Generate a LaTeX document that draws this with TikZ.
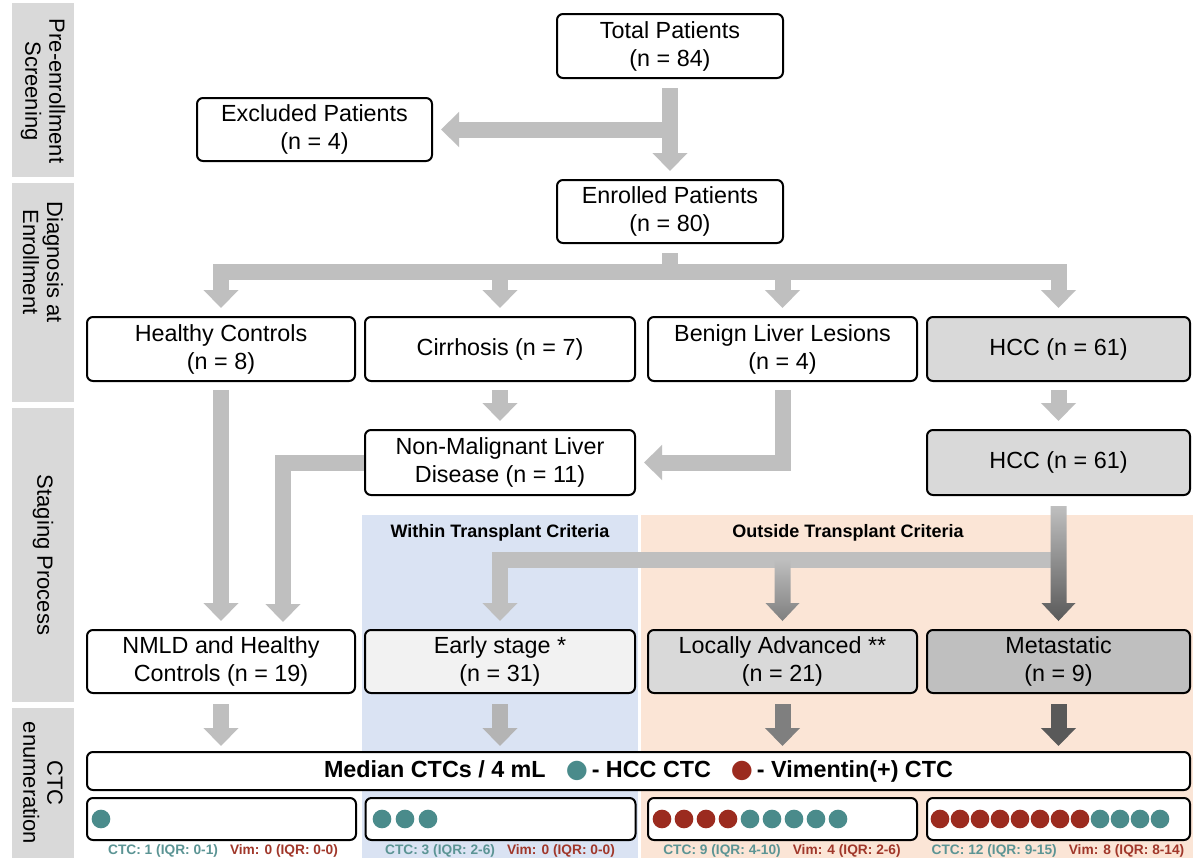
\documentclass[tikz,border=0pt]{standalone}
\usepackage{fontspec}
\setmainfont{Liberation Sans}
\newfontfamily\dejavu{DejaVu Sans}
\usetikzlibrary{arrows.meta,calc}
\definecolor{ag}{HTML}{BFBFBF}
\definecolor{side}{HTML}{D9D9D9}
\definecolor{pblue}{HTML}{DAE3F3}
\definecolor{ppeach}{HTML}{FBE5D6}
\definecolor{fgray}{HTML}{D9D9D9}
\definecolor{fearly}{HTML}{F2F2F2}
\definecolor{fmet}{HTML}{BFBFBF}
\definecolor{tealc}{HTML}{4A8B8B}
\definecolor{redc}{HTML}{9B2B1F}
\definecolor{tealt}{HTML}{5B9494}
\definecolor{redt}{HTML}{A0372A}
\definecolor{dkone}{HTML}{7F7F7F}
\definecolor{dktwo}{HTML}{595959}
\definecolor{earlyarr}{HTML}{B4B4B4}
\begin{document}
\begin{tikzpicture}[x=0.75pt,y=-0.75pt,
  box/.style={draw=black, line width=1.5pt, rounded corners=4.5pt, fill=white, align=center,
    font=\fontsize{17.5}{21}\selectfont, inner sep=0pt},
  sidetxt/.style={rotate=-90, align=center, font=\fontsize{16.5}{18}\selectfont, inner sep=0pt},
  ttl/.style={font=\bfseries\fontsize{13.5}{16}\selectfont, inner sep=0pt},
  lab/.style={font=\bfseries\fontsize{10.3}{12}\selectfont, inner sep=0pt},
  gshaft/.style={draw=ag, line width=12pt},
  garrow/.style={draw=ag, line width=12pt, line join=miter, -{Triangle[width=25.5pt,length=13.5pt]}},
  hdot/.style={radius=7pt}
]
\useasboundingbox (0,0) rectangle (1193,858);
\fill[white] (0,0) rectangle (1193,858);
% sidebar
\fill[side] (12,3) rectangle (74,177);
\fill[side] (12,183) rectangle (74,402);
\fill[side] (12,408) rectangle (74,702);
\fill[side] (12,708) rectangle (74,858);
\node[sidetxt] (s1) at (43,91) {Pre-enrollment\\Screening};
\node[sidetxt] (s2) at (43,262) {Diagnosis at\\Enrollment};
\node[sidetxt] (s3) at (43,555) {Staging Process};
\node[sidetxt] (s4) at (43,783) {CTC\\enumeration};
% panels
\fill[pblue] (362,515) rectangle (638,858);
\fill[ppeach] (641,515) rectangle (1193,858);
\node[ttl] (t1) at (500,533) {Within Transplant Criteria};
\node[ttl] (t2) at (848,533) {Outside Transplant Criteria};
% boxes
\node[box, minimum width=169.5pt, minimum height=48pt] (tot) at (670,46) {Total Patients\\(n = 84)};
\node[box, minimum width=176.25pt, minimum height=47.25pt] (excl) at (314.5,129.5) {Excluded Patients\\(n = 4)};
\node[box, minimum width=169.5pt, minimum height=47.25pt] (enr) at (670,211.5) {Enrolled Patients\\(n = 80)};
\node[box, minimum width=201pt, minimum height=48pt] (hc) at (221,349) {Healthy Controls\\(n = 8)};
\node[box, minimum width=202.5pt, minimum height=48pt] (cir) at (500,349) {Cirrhosis (n = 7)};
\node[box, minimum width=201.75pt, minimum height=48pt] (ben) at (782.5,349) {Benign Liver Lesions\\(n = 4)};
\node[box, minimum width=197.25pt, minimum height=48pt, fill=fgray] (hcca) at (1058.5,349) {HCC (n = 61)};
\node[box, minimum width=202.5pt, minimum height=48.75pt] (nml) at (500,462.5) {Non-Malignant Liver\\Disease (n = 11)};
\node[box, minimum width=197.25pt, minimum height=48.75pt, fill=fgray] (hccb) at (1058.5,462.5) {HCC (n = 61)};
\node[box, minimum width=201pt, minimum height=47.25pt] (nmld) at (221,661.5) {NMLD and Healthy\\Controls (n = 19)};
\node[box, minimum width=202.5pt, minimum height=47.25pt, fill=fearly] (early) at (500,661.5) {Early stage *\\(n = 31)};
\node[box, minimum width=201.75pt, minimum height=47.25pt, fill=fgray] (loc) at (782.5,661.5) {Locally Advanced **\\(n = 21)};
\node[box, minimum width=197.25pt, minimum height=47.25pt, fill=fmet] (met) at (1058.5,661.5) {Metastatic\\(n = 9)};
\node[box, minimum width=827.25pt, minimum height=28.5pt, font=\bfseries\fontsize{17.5}{20}\selectfont] (hdr) at (638.5,771)
  {Median CTCs / 4 mL\hspace{15pt}{\dejavu\fontsize{19}{20}\selectfont\textcolor{tealc}{●}}\,- HCC CTC\hspace{15pt}{\dejavu\fontsize{19}{20}\selectfont\textcolor{redc}{●}}\,- Vimentin(+) CTC};
\node[box, minimum width=201.75pt, minimum height=31.5pt] (d1) at (221.5,819) {};
\node[box, minimum width=202.5pt, minimum height=31.5pt] (d2) at (500.5,819) {};
\node[box, minimum width=201.75pt, minimum height=31.5pt] (d3) at (782.5,819) {};
\node[box, minimum width=197.25pt, minimum height=31.5pt] (d4) at (1058.5,819) {};
% labels
\node[lab] (l1) at (223,851) {\textcolor{tealt}{CTC: 1 (IQR: 0-1)}\hspace{9pt}\textcolor{redt}{Vim: 0 (IQR: 0-0)}};
\node[lab] (l2) at (500,851) {\textcolor{tealt}{CTC: 3 (IQR: 2-6)}\hspace{9pt}\textcolor{redt}{Vim: 0 (IQR: 0-0)}};
\node[lab] (l3) at (782,851) {\textcolor{tealt}{CTC: 9 (IQR: 4-10)}\hspace{9pt}\textcolor{redt}{Vim: 4 (IQR: 2-6)}};
\node[lab] (l4) at (1058,851) {\textcolor{tealt}{CTC: 12 (IQR: 9-15)}\hspace{9pt}\textcolor{redt}{Vim: 8 (IQR: 8-14)}};
% dots
\fill[tealc] (101,819) circle[hdot];
\foreach \x in {382,405,428} \fill[tealc] (\x,819) circle[hdot];
\foreach \x in {662,684,706,728} \fill[redc] (\x,819) circle[hdot];
\foreach \x in {750,772,794,816,838} \fill[tealc] (\x,819) circle[hdot];
\foreach \x in {940,960,980,1000,1020,1040,1060,1080} \fill[redc] (\x,819) circle[hdot];
\foreach \x in {1100,1120,1140,1160} \fill[tealc] (\x,819) circle[hdot];
% connectors: screening
\draw[garrow] ([yshift=-7pt]tot.south) -- ([yshift=6pt]enr.north);
\draw[garrow] (tot |- excl) -- ([xshift=6pt]excl.east);
% enrolment split
\coordinate (b1) at (670,272);
\draw[gshaft] ([yshift=-7pt]enr.south) -- (b1);
\draw[gshaft, line cap=rect] (hc |- b1) -- (hcca |- b1);
\foreach \n in {hc,cir,ben,hcca} \draw[garrow] (\n |- b1) -- ([yshift=6pt]\n.north);
% diagnosis to staging
\draw[garrow] ([yshift=-6pt]cir.south) -- ([yshift=6pt]nml.north);
\draw[garrow] ([yshift=-6pt]hcca.south) -- ([yshift=6pt]hccb.north);
\draw[garrow] ([yshift=-6pt]ben.south) |- ([xshift=6pt]nml.east);
\draw[garrow] ([yshift=-6pt]hc.south) -- ([yshift=6pt]nmld.north);
\coordinate (c2) at (283,622);
\draw[garrow] (nml.west) -| (c2);
% HCC staging split
\coordinate (b2) at (1058.5,560);
\draw[garrow] (b2) -| ([yshift=6pt]early.north);
\coordinate (lt) at ($(loc.north)+(0,-8)$);
\shade[top color=ag, bottom color=dkone] ($(lt)+(-8,-62)$) -- ($(lt)+(8,-62)$) -- ($(lt)+(8,-18)$) -- ($(lt)+(17,-18)$) -- (lt) -- ($(lt)+(-17,-18)$) -- ($(lt)+(-8,-18)$) -- cycle;
\coordinate (mt) at ($(met.north)+(0,-8)$);
\coordinate (mtop) at ($(hccb.south)+(0,10)$);
\shade[top color=ag, bottom color=dktwo] ($(mtop)+(-8,0)$) -- ($(mtop)+(8,0)$) -- ($(mt)+(8,-18)$) -- ($(mt)+(17,-18)$) -- (mt) -- ($(mt)+(-17,-18)$) -- ($(mt)+(-8,-18)$) -- cycle;
% to CTC enumeration
\draw[garrow] ([yshift=-7.5pt]nmld.south) -- ++(0,42);
\draw[garrow, draw=earlyarr] ([yshift=-7.5pt]early.south) -- ++(0,42);
\draw[garrow, draw=dkone] ([yshift=-7.5pt]loc.south) -- ++(0,42);
\draw[garrow, draw=dktwo] ([yshift=-7.5pt]met.south) -- ++(0,42);
\end{tikzpicture}
\end{document}
